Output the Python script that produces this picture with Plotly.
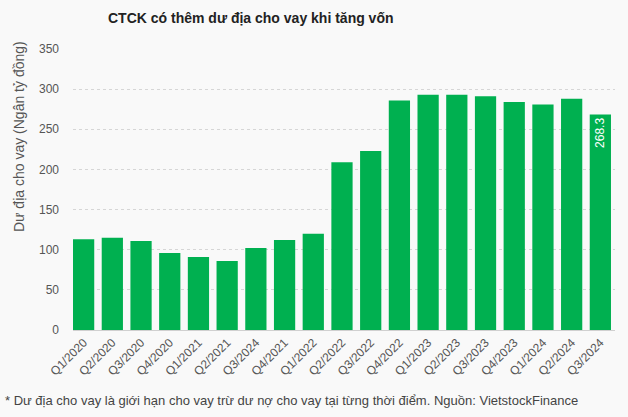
import plotly.graph_objects as go

quarters = ["Q1/2020", "Q2/2020", "Q3/2020", "Q4/2020", "Q1/2021", "Q2/2021", "Q3/2024",
            "Q4/2021", "Q1/2022", "Q2/2022", "Q3/2022", "Q4/2022", "Q1/2023", "Q2/2023",
            "Q3/2023", "Q4/2023", "Q1/2024", "Q2/2024", "Q3/2024"]
values = [113, 115, 111, 96, 91, 86, 102, 112, 120, 209, 223, 286, 293, 293, 291, 284, 281, 288, 268.3]
labels = [""] * (len(values) - 1) + ["268.3"]

L, R, T, B = 73, 13, 49, 87
W, H = 628, 417
PW, PH = W - L - R, H - T - B

fig = go.Figure(go.Bar(
    x=list(range(len(values))), y=values,
    marker=dict(color="#00b050", line=dict(width=0)),
    text=labels, textposition="inside", textangle=-90, insidetextanchor="end",
    textfont=dict(color="white", size=12, family="Arial Black, Arial, sans-serif"),
    cliponaxis=False,
))

fig.update_layout(
    width=W, height=H,
    margin=dict(l=L, r=R, t=T, b=B),
    paper_bgcolor="#f9f9f9", plot_bgcolor="#f9f9f9",
    bargap=0.26,
    showlegend=False,
    font=dict(family="Liberation Sans, Arial, sans-serif", color="#555"),
    annotations=[
        dict(text="<b>CTCK có thêm dư địa cho vay khi tăng vốn</b>",
             x=(251 - L) / PW, y=1 + (T - 18) / PH,
             xref="paper", yref="paper", xanchor="center", yanchor="middle",
             showarrow=False, font=dict(size=14, color="#222")),
        dict(text="* Dư địa cho vay là giới hạn cho vay trừ dư nợ cho vay tại từng thời điểm. Nguồn: VietstockFinance",
             x=(3 - L) / PW, y=-(400 - (H - B)) / PH,
             xref="paper", yref="paper", xanchor="left", yanchor="middle",
             showarrow=False, font=dict(size=13, color="#444")),
        dict(text="Dư địa cho vay (Ngân tỷ đồng)", textangle=-90,
             x=(19 - L) / PW, y=((H - B) - 137) / PH,
             xref="paper", yref="paper", xanchor="center", yanchor="middle",
             showarrow=False, font=dict(size=14, color="#555")),
    ],
)

fig.update_xaxes(
    tickmode="array", tickvals=list(range(len(values))), ticktext=quarters,
    tickangle=-45, tickfont=dict(size=12, color="#555"),
    range=[-0.37, len(values) - 0.49],
    showgrid=False, showline=True, linecolor="#d0d0d0", linewidth=1, ticks="",
)
fig.update_yaxes(
    range=[0, 350], dtick=50, tickfont=dict(size=12, color="#555"),
    showgrid=True, gridcolor="#d6d6d6", griddash="dot", gridwidth=1,
    zeroline=False, ticks="", ticklabelstandoff=13,
)

fig.write_html("out.html")
